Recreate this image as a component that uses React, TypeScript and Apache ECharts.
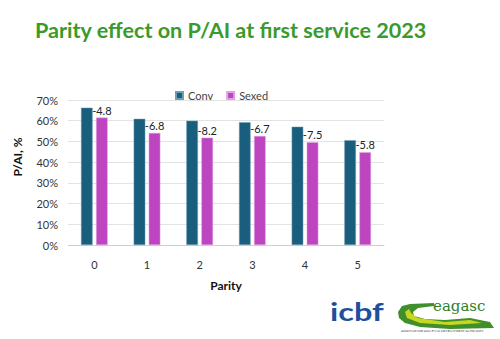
import React, { useEffect, useRef } from "react";
import * as echarts from "echarts";

const categories = ["0", "1", "2", "3", "4", "5"];
const convValues = [66.3, 60.9, 60.0, 59.3, 57.1, 50.6];
const sexedValues = [61.5, 54.1, 51.8, 52.6, 49.6, 44.8];
const diffLabels = ["-4.8", "-6.8", "-8.2", "-6.7", "-7.5", "-5.8"];
const yTicks = [0, 10, 20, 30, 40, 50, 60, 70];

const FONT = "Lato, 'Open Sans', sans-serif";

export default function App() {
  const ref = useRef<HTMLDivElement>(null);
  useEffect(() => {
    if (!ref.current) return;
    const chart = echarts.init(ref.current, undefined, { renderer: "svg" });
    chart.setOption({
      animation: false,
      backgroundColor: "#ffffff",
      textStyle: { fontFamily: FONT },
      title: {
        text: "Parity effect on P/AI at first service 2023",
        left: 30,
        top: 14,
        textStyle: { color: "#3a9a2b", fontSize: 21.6, fontWeight: "bold", fontFamily: FONT },
      },
      legend: {
        top: 85,
        left: 170,
        itemWidth: 7,
        itemHeight: 7,
        itemGap: 13,
        icon: "rect",
        textStyle: { color: "#444", fontSize: 11, fontFamily: FONT },
        data: ["Conv", "Sexed"],
      },
      grid: { left: 68, right: 116, top: 100, bottom: 94 },
      xAxis: {
        type: "category",
        data: categories,
        name: "Parity",
        nameLocation: "middle",
        nameGap: 34,
        nameTextStyle: { color: "#111", fontSize: 12, fontWeight: "bold", fontFamily: FONT },
        axisLine: { lineStyle: { color: "#cfcfcf" } },
        axisTick: { show: false },
        axisLabel: { color: "#333", fontSize: 11, margin: 14 },
      },
      yAxis: {
        type: "value",
        min: yTicks[0],
        max: yTicks[yTicks.length - 1],
        interval: 10,
        axisLine: { show: false },
        axisTick: { show: false },
        splitLine: { lineStyle: { color: "#e3e3e3" } },
        axisLabel: { color: "#333", fontSize: 11, margin: 10, formatter: "{value}%" },
      },
      graphic: [
        {
          type: "text",
          x: 17,
          y: 157,
          rotation: Math.PI / 2,
          style: {
            text: "P/AI, %",
            fill: "#111",
            font: `bold 12px ${FONT}`,
            textAlign: "center",
            textVerticalAlign: "middle",
          },
        },
        {
          type: "text",
          x: 330,
          y: 299,
          scaleX: 1.3,
          style: { text: "icbf", fill: "#1d4f9f", font: `bold 25px ${FONT}` },
        },
        {
          type: "polygon",
          shape: {
            points: [
              [398, 312], [402, 306], [410, 304], [434, 303], [434, 306], [418, 308], [413, 312],
              [414, 316], [425, 319], [445, 320], [470, 318], [490, 322], [494, 328], [450, 329],
              [420, 327], [405, 323], [399, 318],
            ],
          },
          style: { fill: "#3f8f2a" },
        },
        {
          type: "polygon",
          shape: {
            points: [
              [405, 312], [409, 309], [411, 313], [418, 318], [445, 322], [470, 320], [482, 323],
              [450, 325], [420, 323], [407, 318],
            ],
          },
          style: { fill: "#c8d820" },
        },
        {
          type: "text",
          x: 433,
          y: 298,
          style: { text: "eagasc", fill: "#2e7f2a", font: `15px 'DejaVu Serif', serif` },
        },
        {
          type: "text",
          x: 401,
          y: 329,
          style: {
            text: "AGRICULTURE AND FOOD DEVELOPMENT AUTHORITY",
            fill: "#333",
            font: `2.8px 'DejaVu Serif', serif`,
          },
        },
      ],
      series: [
        {
          name: "Conv",
          type: "bar",
          data: convValues,
          barWidth: "22%",
          barGap: "30%",
          itemStyle: { color: "#1a5e7e", borderColor: "#6f9fb5", borderWidth: 0.5 },
        },
        {
          name: "Sexed",
          type: "bar",
          data: sexedValues,
          barWidth: "22%",
          itemStyle: { color: "#bd45bf", borderColor: "#e2a0e2", borderWidth: 0.5 },
          label: {
            show: true,
            position: "top",
            distance: 2,
            color: "#222",
            fontSize: 11,
            fontFamily: FONT,
            formatter: (p: any) => diffLabels[p.dataIndex],
          },
        },
      ],
    });
    return () => chart.dispose();
  }, []);
  return <div ref={ref} style={{ width: 500, height: 339, position: "absolute", left: 0, top: 0 }} />;
}
